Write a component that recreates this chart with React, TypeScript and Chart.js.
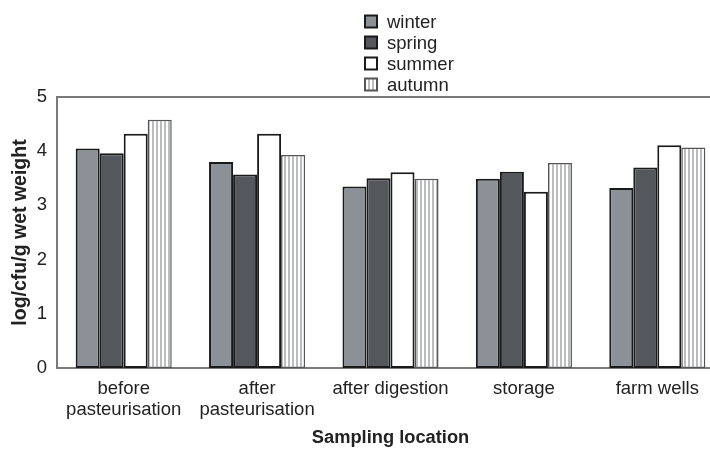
import React, { useEffect, useRef } from "react";
import { Chart, registerables } from "chart.js";

Chart.register(...registerables);

const categories = [
  ["before", "pasteurisation"],
  ["after", "pasteurisation"],
  ["after digestion"],
  ["storage"],
  ["farm wells"],
];
const seriesNames = ["winter", "spring", "summer", "autumn"];
const winter = [4.05, 3.8, 3.35, 3.49, 3.32];
const spring = [3.96, 3.57, 3.5, 3.62, 3.7];
const summer = [4.32, 4.32, 3.61, 3.25, 4.11];
const autumn = [4.58, 3.93, 3.49, 3.78, 4.07];
const yTicks = [0, 1, 2, 3, 4, 5];

const FONT = "'Liberation Sans', Arial, sans-serif";

function makeStripes(): CanvasPattern | string {
  const c = document.createElement("canvas");
  c.width = 4;
  c.height = 4;
  const g = c.getContext("2d");
  if (!g) return "#ddd";
  g.fillStyle = "#ffffff";
  g.fillRect(0, 0, 4, 4);
  g.fillStyle = "#babcc0";
  g.fillRect(0, 0, 2, 4);
  const p = g.createPattern(c, "repeat");
  return p || "#ddd";
}

const topLinePlugin = {
  id: "topLine",
  afterDraw(chart: any) {
    const { ctx, chartArea } = chart;
    ctx.save();
    ctx.strokeStyle = "#7a7a7a";
    ctx.lineWidth = 2;
    ctx.beginPath();
    ctx.moveTo(chartArea.left, chartArea.top);
    ctx.lineTo(chartArea.right, chartArea.top);
    ctx.stroke();
    ctx.restore();
  },
};

const legendPlugin = {
  id: "vertLegend",
  afterDraw(chart: any) {
    const { ctx } = chart;
    const ds = chart.data.datasets;
    ctx.save();
    ctx.font = "18.5px " + FONT;
    ctx.textBaseline = "middle";
    ctx.textAlign = "left";
    for (let i = 0; i < ds.length; i++) {
      const cy = 21.5 + i * 21;
      const bx = 365;
      ctx.fillStyle = ds[i].backgroundColor;
      ctx.fillRect(bx, cy - 6, 12, 12);
      ctx.strokeStyle = i === 3 ? "#555" : "#1a1a1a";
      ctx.lineWidth = 2;
      ctx.strokeRect(bx, cy - 6, 12, 12);
      ctx.fillStyle = "#222";
      ctx.fillText(ds[i].label, 387, cy + 1);
    }
    ctx.restore();
  },
};

export default function App() {
  const ref = useRef<HTMLCanvasElement>(null);
  useEffect(() => {
    if (!ref.current) return;
    const stripes = makeStripes();
    const fills: any[] = ["#8c9097", "#54575b", "#ffffff", stripes];
    const values = [winter, spring, summer, autumn];
    const chart = new Chart(ref.current, {
      type: "bar",
      data: {
        labels: categories as any,
        datasets: seriesNames.map((name, i) => ({
          label: name,
          data: values[i],
          backgroundColor: fills[i],
          borderColor: i === 3 ? "#555" : "#1a1a1a",
          borderWidth: i === 3 ? 1.5 : 2,
          borderSkipped: false,
          barPercentage: 1,
          categoryPercentage: 0.72,
        })),
      },
      options: {
        animation: false,
        responsive: false,
        maintainAspectRatio: false,
        layout: { padding: { top: 97, left: 0, right: 0, bottom: 0 } },
        plugins: {
          legend: { display: false },
          tooltip: { enabled: false },
          title: { display: false },
        },
        scales: {
          x: {
            grid: { display: false, drawTicks: false },
            border: { display: true, color: "#7a7a7a", width: 2 },
            ticks: {
              color: "#222",
              padding: 10,
              maxRotation: 0,
              autoSkip: false,
              font: { size: 18.5, family: FONT, lineHeight: 1.15 },
            },
            title: {
              display: true,
              text: "Sampling location",
              color: "#222",
              font: { size: 18.3, weight: "bold", family: FONT },
              padding: { top: 0, bottom: 5 },
            },
            afterFit: (s: any) => {
              s.height = 86;
            },
          },
          y: {
            min: 0,
            max: 5,
            grid: { display: false, drawTicks: false },
            border: { display: true, color: "#7a7a7a", width: 2 },
            afterBuildTicks: (s: any) => {
              s.ticks = yTicks.map((v) => ({ value: v }));
            },
            ticks: {
              color: "#222",
              padding: 10,
              font: { size: 18.5, family: FONT },
            },
            title: {
              display: true,
              text: "log/cfu/g wet weight",
              color: "#222",
              font: { size: 19.5, weight: "bold", family: FONT },
              padding: { top: 8.5, bottom: 0 },
            },
            afterFit: (s: any) => {
              s.width = 57;
            },
          },
        },
      },
      plugins: [topLinePlugin, legendPlugin],
    });
    return () => chart.destroy();
  }, []);
  return (
    <div
      style={{
        position: "fixed",
        left: 0,
        top: 0,
        width: 710,
        height: 454,
        overflow: "hidden",
        background: "#fff",
      }}
    >
      <canvas ref={ref} width={724} height={454} style={{ width: 724, height: 454, display: "block" }} />
    </div>
  );
}
